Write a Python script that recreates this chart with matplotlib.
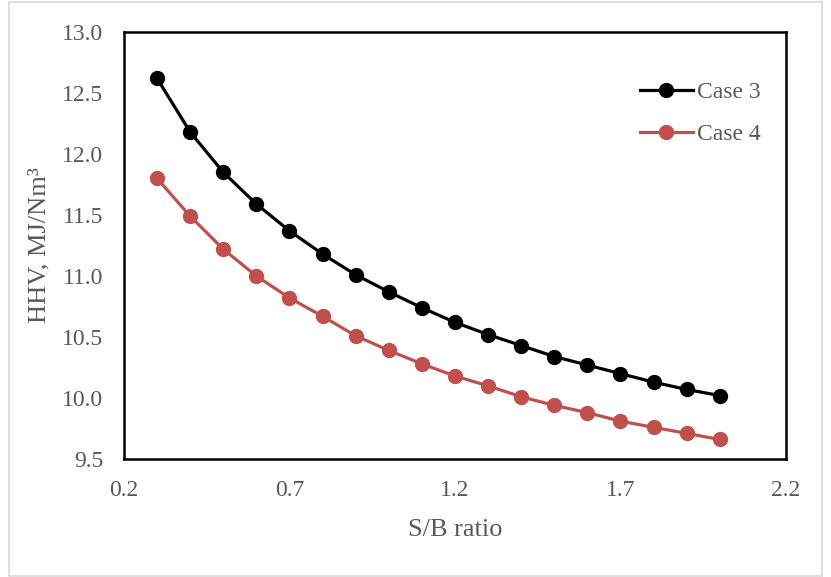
import matplotlib.pyplot as plt
from matplotlib.patches import Rectangle

# S/B ratio and HHV values
sb_ratio = [0.3, 0.4, 0.5, 0.6, 0.7, 0.8, 0.9, 1.0, 1.1, 1.2, 1.3, 1.4, 1.5, 1.6, 1.7, 1.8, 1.9, 2.0]
case3 = [12.62, 12.18, 11.85, 11.59, 11.37, 11.18, 11.01, 10.87, 10.74, 10.62,
         10.52, 10.43, 10.34, 10.27, 10.20, 10.13, 10.07, 10.02]
case4 = [11.80, 11.49, 11.22, 11.00, 10.82, 10.67, 10.51, 10.39, 10.28, 10.18,
         10.10, 10.01, 9.94, 9.88, 9.81, 9.76, 9.71, 9.66]
xticks = [0.2, 0.7, 1.2, 1.7, 2.2]
yticks = [9.5, 10.0, 10.5, 11.0, 11.5, 12.0, 12.5, 13.0]

plt.rcParams['font.family'] = ['Liberation Serif', 'DejaVu Serif']
grey = '#595959'

fig = plt.figure(figsize=(8.31, 5.77), dpi=100)
ax = fig.add_axes([0.1492, 0.2045, 0.7966, 0.74])

# light border around the chart area
fig.patches.append(Rectangle((9 / 831, 1 / 577), 813 / 831, 574 / 577, transform=fig.transFigure,
                             fill=False, edgecolor='#d9d9d9', linewidth=1.2))

ax.plot(sb_ratio, case3, color='black', lw=2.3, marker='o', markersize=10, label='Case 3')
ax.plot(sb_ratio, case4, color='#C0504D', lw=2.3, marker='o', markersize=10, label='Case 4')

ax.set_xlim(0.2, 2.2)
ax.set_ylim(9.5, 13.0)
ax.set_xticks(xticks)
ax.set_xticklabels([f'{v:.1f}' for v in xticks])
ax.set_yticks(yticks)
ax.set_yticklabels([f'{v:.1f}' for v in yticks])
ax.tick_params(length=0, labelsize=17, labelcolor=grey)
ax.tick_params(axis='x', pad=15)
ax.tick_params(axis='y', pad=15)
for s in ax.spines.values():
    s.set_linewidth(1.8)
    s.set_color('black')

ax.set_xlabel('S/B ratio', fontsize=19, color=grey, labelpad=13)
ax.set_ylabel('HHV, MJ/Nm³', fontsize=19, color=grey, labelpad=8)

ax.legend(loc='upper right', bbox_to_anchor=(0.994, 0.934), frameon=False, fontsize=17,
          labelcolor=grey, handlelength=2.25, handletextpad=0.17, labelspacing=0.88)

fig.savefig('out.png', dpi=100)
